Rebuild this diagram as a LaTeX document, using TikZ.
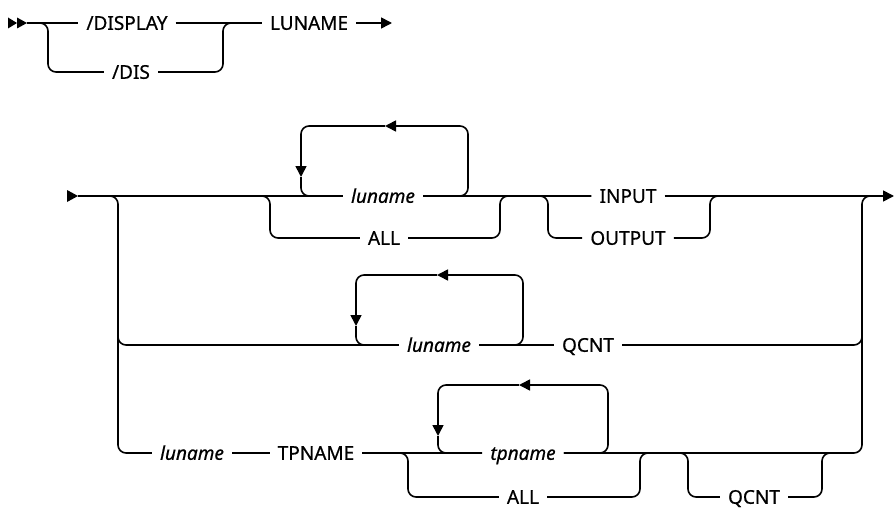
\documentclass[tikz,border=0pt]{standalone}
\usepackage{fontspec}
\setmainfont{Noto Sans}[FakeBold=0.7]
\usetikzlibrary{arrows.meta}
\begin{document}
\begin{tikzpicture}[x=1pt,y=-1pt,
  rr/.style={line width=1.6pt, rounded corners=8pt},
  kw/.style={font=\fontsize{19}{22}\selectfont, inner xsep=8pt, inner ysep=0pt, text height=13.6pt, text depth=0pt},
  var/.style={kw, font=\fontsize{19}{22}\selectfont\itshape},
  tip/.style={-{Triangle[length=11pt,width=11pt]}},
  head/.style={fill=black}
]
\useasboundingbox (0,0) rectangle (894,508);

% ---------- first line ----------
\fill[head] (8,17.5) -- (17,23) -- (8,28.5) -- cycle;
\fill[head] (17,17.5) -- (27,23) -- (17,28.5) -- cycle;
\coordinate (s0) at (27,23);
\coordinate (b0l) at (48,23);
\coordinate (b0r) at (223,23);
\coordinate (e0) at (392,23);
\node[kw] (disp) at (127,23) {/DISPLAY};
\node[kw] (dis) at (131,72) {/DIS};
\node[kw] (lun0) at (309,23) {LUNAME};
\draw[rr] (s0) -- (disp.west);
\draw[rr] (s0) -- (b0l) -- (b0l |- dis) -- (dis.west);
\draw[rr] (disp.east) -- (lun0.west);
\draw[rr] (dis.east) -- (b0r |- dis) -- (b0r) -- (lun0.west);
\draw[rr,tip] (lun0.east) -- (e0);

% ---------- main diagram ----------
\fill[head] (67,190) -- (78,196) -- (67,202) -- cycle;
\coordinate (s1) at (78,196);
\coordinate (v1) at (118,196);
\coordinate (v1m) at (118,300);
\coordinate (a1l) at (270,196);
\coordinate (a1r) at (500,196);
\coordinate (l1l) at (301,196);
\coordinate (l1r) at (468,196);
\coordinate (l1tl) at (301,126);
\coordinate (l1tr) at (468,126);
\coordinate (l1ar) at (385,126);
\coordinate (l1ad) at (301,177);
\coordinate (o1l) at (548,196);
\coordinate (o1r) at (710,196);
\coordinate (o1re) at (725,196);
\coordinate (vr) at (862,196);
\coordinate (vrm) at (862,300);
\coordinate (vre) at (878,196);
\coordinate (e1) at (894,196);

\node[var] (lun1) at (383,196) {luname};
\node[kw] (all1) at (384,238) {ALL};
\node[kw] (inp) at (628,196) {INPUT};
\node[kw] (outp) at (628,238) {OUTPUT};

\draw[rr] (s1) -- (lun1.west);
\draw[rr] (lun1.east) -- (inp.west);
\draw[rr,tip] (inp.east) -- (e1);
\draw[rr] (s1) -- (a1l) -- (a1l |- all1) -- (all1.west);
\draw[rr] (all1.east) -- (a1r |- all1) -- (a1r) -- (inp.west);
\draw[rr,tip] (lun1.east) -- (l1r) -- (l1tr) -- (l1ar);
\draw[rr,tip] (l1ar) -- (l1tl) -- (l1ad);
\draw[rr] (l1ad) -- (l1l) -- (lun1.west);
\draw[rr] (lun1.east) -- (o1l) -- (o1l |- outp) -- (outp.west);
\draw[rr] (outp.east) -- (o1r |- outp) -- (o1r) -- (o1re);

% row 2
\coordinate (l2l) at (356,345);
\coordinate (l2r) at (523,345);
\coordinate (l2tl) at (356,275);
\coordinate (l2tr) at (523,275);
\coordinate (l2ar) at (437,275);
\coordinate (l2ad) at (356,326);
\node[var] (lun2) at (439,345) {luname};
\node[kw] (q2) at (588,345) {QCNT};
\draw[rr] (s1) -- (v1) -- (v1 |- lun2) -- (lun2.west);
\draw[rr] (lun2.east) -- (q2.west);
\draw[rr] (q2.east) -- (vr |- q2) -- (vrm);
\draw[rr,tip] (lun2.east) -- (l2r) -- (l2tr) -- (l2ar);
\draw[rr,tip] (l2ar) -- (l2tl) -- (l2ad);
\draw[rr] (l2ad) -- (l2l) -- (lun2.west);

% row 3
\node[var] (lun3) at (192,453) {luname};
\node[kw] (TP) at (316,453) {TPNAME};
\node[var] (tp) at (523,453) {tpname};
\node[kw] (all3) at (523,497) {ALL};
\node[kw] (q3) at (754,497) {QCNT};
\coordinate (a3l) at (408,453);
\coordinate (a3r) at (640,453);
\coordinate (q3l) at (688,453);
\coordinate (q3r) at (822,453);
\coordinate (q3re) at (840,453);
\coordinate (l3l) at (438,453);
\coordinate (l3r) at (608,453);
\coordinate (l3tl) at (438,385);
\coordinate (l3tr) at (608,385);
\coordinate (l3ar) at (519,385);
\coordinate (l3ad) at (438,436);

\draw[rr] (v1m) -- (v1 |- lun3) -- (lun3.west);
\draw[rr] (lun3.east) -- (TP.west);
\draw[rr] (TP.east) -- (tp.west);
\draw[rr] (tp.east) -- (vr |- tp) -- (vr) -- (vre);
\draw[rr] (TP.east) -- (a3l) -- (a3l |- all3) -- (all3.west);
\draw[rr] (all3.east) -- (a3r |- all3) -- (a3r) -- (q3l);
\draw[rr] (a3r) -- (q3l) -- (q3l |- q3) -- (q3.west);
\draw[rr] (q3.east) -- (q3r |- q3) -- (q3r) -- (q3re);
\draw[rr,tip] (tp.east) -- (l3r) -- (l3tr) -- (l3ar);
\draw[rr,tip] (l3ar) -- (l3tl) -- (l3ad);
\draw[rr] (l3ad) -- (l3l) -- (tp.west);
\end{tikzpicture}
\end{document}
